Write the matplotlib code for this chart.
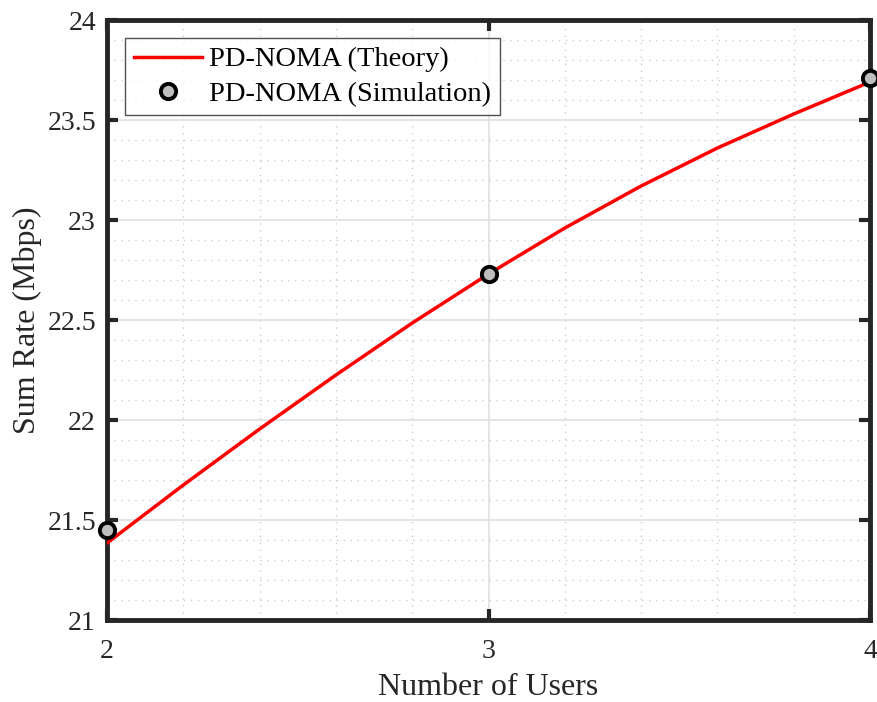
import matplotlib.pyplot as plt
from matplotlib.ticker import MultipleLocator

plt.rcParams['font.family'] = ['Liberation Serif', 'DejaVu Serif']

# theory curve
users_th = [2, 2.2, 2.4, 2.6, 2.8, 3, 3.2, 3.4, 3.6, 3.8, 4]
rate_th = [21.385, 21.675, 21.955, 22.225, 22.485, 22.73, 22.96, 23.17, 23.36, 23.53, 23.69]

# simulation points
users_sim = [2, 3, 4]
rate_sim = [21.45, 22.73, 23.71]

xticks = [2, 3, 4]
yticks = [21, 21.5, 22, 22.5, 23, 23.5, 24]
ytick_labels = ['21', '21.5', '22', '22.5', '23', '23.5', '24']

fig = plt.figure(figsize=(8.78, 7.02), dpi=100)
ax = fig.add_axes([0.1219, 0.1168, 0.869, 0.8547])

ax.plot(users_th, rate_th, color='red', lw=2.5, label='PD-NOMA (Theory)', zorder=3)
ax.plot(users_sim, rate_sim, ls='none', marker='o', ms=11, mfc='#bebebe', mec='black',
        mew=2.8, label='PD-NOMA (Simulation)', zorder=4, clip_on=False)

ax.set_xlim(2, 4)
ax.set_ylim(21, 24)
ax.set_xticks(xticks)
ax.set_xticklabels([str(x) for x in xticks])
ax.set_yticks(yticks)
ax.set_yticklabels(ytick_labels)
ax.xaxis.set_minor_locator(MultipleLocator(0.2))
ax.yaxis.set_minor_locator(MultipleLocator(0.1))

ax.grid(which='major', color='#e0e0e0', lw=1.2, ls='-')
ax.grid(which='minor', color='#cccccc', lw=1.0, ls=(0, (1, 4)))
ax.set_axisbelow(True)

for s in ax.spines.values():
    s.set_linewidth(3.5)
    s.set_color('#262626')
ax.tick_params(which='major', direction='in', length=8, width=3, color='#262626',
               top=True, right=True, labelsize=20, labelcolor='#262626')
ax.tick_params(axis='x', which='major', pad=14)
ax.tick_params(axis='y', which='major', pad=8)
ax.tick_params(which='minor', length=0)

ax.set_xlabel('Number of Users', fontsize=23, color='#262626', labelpad=6)
ax.set_ylabel('Sum Rate (Mbps)', fontsize=23, color='#262626', labelpad=4)

leg = ax.legend(loc='upper left', bbox_to_anchor=(0.024, 0.97), fontsize=20.5, frameon=True,
                fancybox=False, edgecolor='#262626', borderpad=0.3, handlelength=2.4,
                labelspacing=0.3, handletextpad=0.25, borderaxespad=0)
leg.get_frame().set_linewidth(1.0)
for t in leg.get_texts():
    t.set_color('black')

fig.savefig('out.png', dpi=100)
